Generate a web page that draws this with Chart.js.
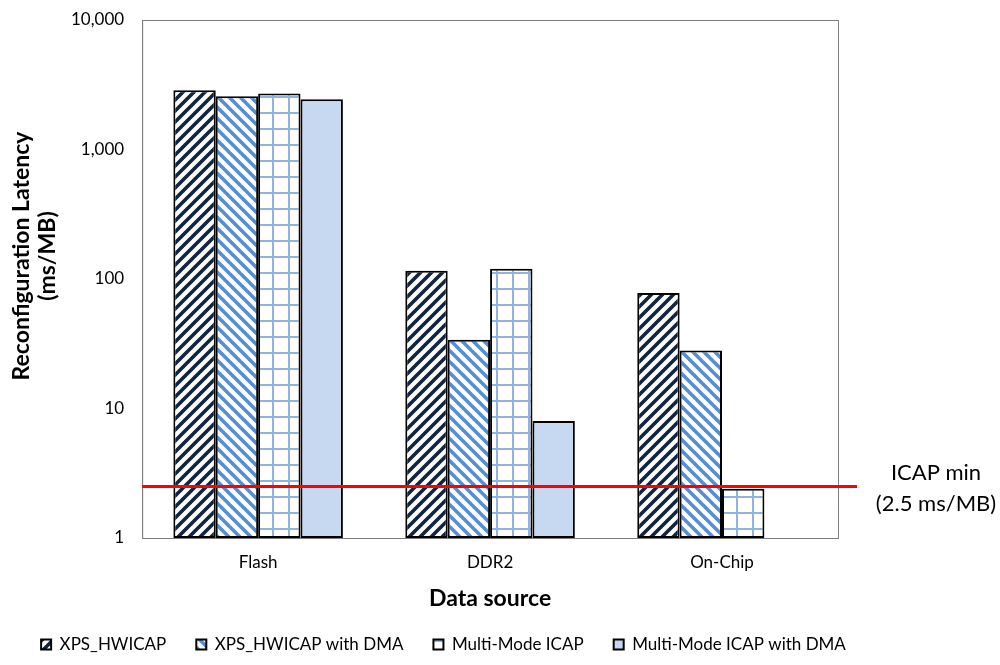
<!DOCTYPE html>
<html>
<head>
<meta charset="utf-8">
<script src="https://cdn.jsdelivr.net/npm/chart.js@4.4.1/dist/chart.umd.min.js"></script>
<style>
  html, body { margin: 0; padding: 0; background: #fff; }
  #wrap { width: 1000px; height: 665px; }
</style>
</head>
<body>
<div id="wrap"><canvas id="latencyChart"></canvas></div>
<script>
// Data (ms/MB, log scale)
const categories = ['Flash', 'DDR2', 'On-Chip'];
const xpsHwicap = [2870, 116, 78];
const xpsHwicapDma = [2580, 34, 28];
const multiModeIcap = [2710, 120, 2.4];
const multiModeIcapDma = [2440, 8.0, null];
const yTicks = [1, 10, 100, 1000, 10000];
const yTitle = ['Reconfiguration Latency', '(ms/MB)'];
const icapMin = 2.5;
const icapNote = ['ICAP min', '(2.5 ms/MB)'];

// Pattern helpers
function makeTile(size, drawFn) {
    let c = document.createElement('canvas');
    c.width = size;
    c.height = size;
    let g = c.getContext('2d');
    g.fillStyle = '#ffffff';
    g.fillRect(0, 0, size, size);
    drawFn(g, size);
    return document.createElement('canvas').getContext('2d').createPattern(c, 'repeat');
}

function stripes(color, upward) {
    return makeTile(11, (g, s) => {
        g.strokeStyle = color;
        g.lineWidth = 3.6;
        g.lineCap = 'square';
        for (let k = -1; k <= 1; k++) {
            g.beginPath();
            if (upward) {
                g.moveTo(k * s, s);
                g.lineTo(k * s + s, 0);
            } else {
                g.moveTo(k * s, 0);
                g.lineTo(k * s + s, s);
            }
            g.stroke();
        }
    });
}

function grid(color) {
    return makeTile(16, (g, s) => {
        g.fillStyle = color;
        g.fillRect(0, 0, s, 2);
        g.fillRect(0, 0, 2, s);
    });
}

const patXps = stripes('#10253f', true);
const patXpsDma = stripes('#558ed5', false);
const patMm = grid('#8eb4e3');
const solidMmDma = '#c6d9f1';

// Plot frame, y title, ICAP min line with its note on the right
const extras = {
    id: 'extras',
    afterLayout(chart) {
        // legend sits a bit left of centre, close under the axis title, like the original
        const lg = chart.legend;
        lg.left = 0;
        lg.right = 887;
        const h = lg.height;
        lg.top = 606;
        lg.bottom = 606 + h;
    },
    afterDatasetsDraw(chart) {
        const { ctx, chartArea } = chart;
        const y = chart.scales.y.getPixelForValue(icapMin);
        ctx.save();
        ctx.strokeStyle = '#7f7f7f';
        ctx.lineWidth = 1;
        ctx.strokeRect(chartArea.left + 0.5, chartArea.top + 0.5,
            chartArea.right - chartArea.left, chartArea.bottom - chartArea.top);

        ctx.strokeStyle = '#ff0000';
        ctx.lineWidth = 3;
        ctx.beginPath();
        ctx.moveTo(chartArea.left, y);
        ctx.lineTo(chartArea.right + 19, y);
        ctx.stroke();

        ctx.fillStyle = '#000';
        ctx.font = '22px Lato';
        ctx.textAlign = 'center';
        ctx.textBaseline = 'middle';
        ctx.fillText(icapNote[0], chartArea.right + 98, y - 14);
        ctx.fillText(icapNote[1], chartArea.right + 98, y + 17);

        // y axis title, two lines, sitting a little above the plot middle
        const midY = (chartArea.top + chartArea.bottom) / 2 - 23;
        ctx.translate(chart.scales.y.left, midY);
        ctx.rotate(-Math.PI / 2);
        ctx.font = 'bold 23px Lato';
        ctx.fillText(yTitle[0], 0, 22);
        ctx.fillText(yTitle[1], 0, 48);
        ctx.restore();
    }
};

let ctx = document.getElementById('latencyChart').getContext('2d');
let latencyChart = new Chart(ctx, {
    type: 'bar',
    data: {
        labels: categories,
        datasets: [
            { label: 'XPS_HWICAP', data: xpsHwicap, backgroundColor: patXps },
            { label: 'XPS_HWICAP with DMA', data: xpsHwicapDma, backgroundColor: patXpsDma },
            { label: 'Multi-Mode ICAP', data: multiModeIcap, backgroundColor: patMm },
            { label: 'Multi-Mode ICAP with DMA', data: multiModeIcapDma, backgroundColor: solidMmDma }
        ]
    },
    options: {
        responsive: true,
        maintainAspectRatio: false,
        animation: false,
        datasets: {
            bar: {
                borderColor: '#000',
                borderWidth: 2,
                borderSkipped: false,
                categoryPercentage: 0.731,
                barPercentage: 1
            }
        },
        layout: { padding: { top: 20, right: 0, left: 0, bottom: -4 } },
        plugins: {
            legend: {
                position: 'bottom',
                labels: {
                    font: { family: 'Lato', size: 17 },
                    color: '#000',
                    boxWidth: 10,
                    boxHeight: 10,
                    padding: 30
                }
            },
            tooltip: { enabled: false }
        },
        scales: {
            x: {
                grid: { display: false, drawTicks: false },
                border: { color: '#000', width: 1 },
                ticks: { font: { family: 'Lato', size: 17 }, color: '#000', padding: 14 },
                title: {
                    display: true,
                    text: 'Data source',
                    font: { family: 'Lato', size: 23, weight: 'bold' },
                    color: '#000',
                    padding: { top: -2, bottom: 0 }
                }
            },
            y: {
                type: 'logarithmic',
                min: 1,
                max: 10000,
                grid: { display: false, drawTicks: false },
                border: { color: '#7f7f7f', width: 1 },
                afterBuildTicks(scale) {
                    scale.ticks = yTicks.map(v => ({ value: v }));
                },
                afterFit(scale) {
                    // room for the hand-placed two-line title; keep the plot top at the top label
                    scale.width += 53;
                    scale.paddingTop = 10;
                    scale.paddingBottom = 10;
                },
                ticks: {
                    font: { family: 'Lato', size: 17 },
                    color: '#000',
                    padding: 18,
                    callback: v => v.toLocaleString('en-US')
                }
            },
            // empty axis on the right just reserves room for the ICAP note
            y2: {
                position: 'right',
                display: true,
                grid: { display: false, drawTicks: false },
                border: { display: false },
                ticks: { display: false },
                afterFit(scale) {
                    scale.width = 162;
                }
            }
        }
    },
    plugins: [extras]
});
</script>
</body>
</html>
